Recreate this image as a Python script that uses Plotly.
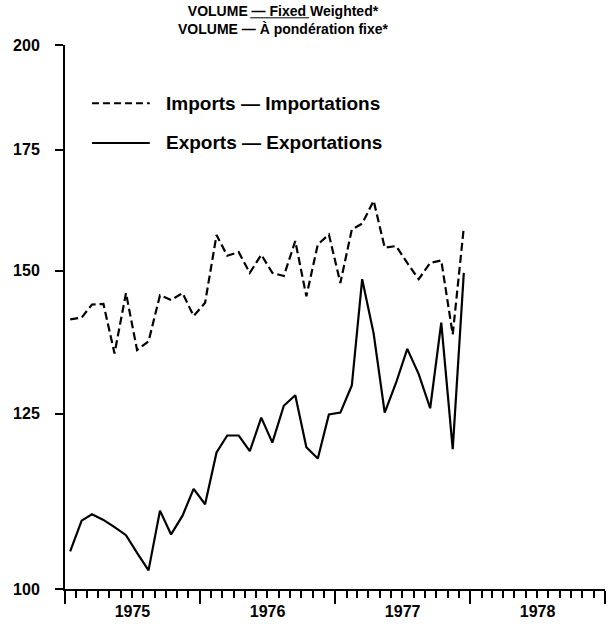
import plotly.graph_objects as go
import numpy as np

# Monthly data, Jan 1975 - Dec 1977 (index values, log scale)
months = [f"{1975 + i // 12}-{i % 12 + 1:02d}-15" for i in range(36)]

imports = [141.0, 141.3, 143.7, 143.8, 135.0, 145.8, 135.6, 137.1, 145.4, 144.5, 145.8, 141.6,
           144.0, 157.0, 152.9, 153.6, 149.6, 153.1, 149.6, 149.0, 155.8, 145.2, 155.1, 157.1,
           147.7, 158.1, 159.3, 164.0, 154.5, 154.8, 151.5, 148.4, 151.5, 152.0, 138.3, 158.5]

exports = [104.9, 109.1, 110.0, 109.2, 108.2, 107.1, 104.7, 102.4, 110.5, 107.2, 109.8, 113.6,
           111.4, 119.0, 121.6, 121.6, 119.2, 124.4, 120.5, 126.3, 128.0, 119.8, 118.1, 124.9,
           125.2, 129.6, 148.4, 138.5, 125.2, 130.1, 135.8, 131.5, 125.9, 140.4, 119.5, 149.6]

y_ticks = [100, 125, 150, 175, 200]
series_names = ["Imports — Importations", "Exports — Exportations"]
title_lines = ["VOLUME — Fixed Weighted*", "VOLUME — À pondération fixe*"]

FONT = "Liberation Sans"
tickfont = dict(family=FONT, size=16, color="black", weight="bold")

fig = go.Figure()
fig.add_trace(go.Scatter(x=months, y=imports, mode="lines", name=series_names[0],
                         line=dict(color="black", width=2.2, dash="8px,4px")))
fig.add_trace(go.Scatter(x=months, y=exports, mode="lines", name=series_names[1],
                         line=dict(color="black", width=2.2)))

fig.update_layout(
    width=610, height=628,
    margin=dict(l=65, r=5, t=45, b=39),
    paper_bgcolor="white", plot_bgcolor="white",
    showlegend=False,
    xaxis=dict(type="date", range=["1975-01-01", "1979-01-01"],
               tick0="1975-01-01", dtick="M12", tickformat="%Y", ticklabelmode="period",
               ticks="outside", ticklen=13, tickwidth=2, tickcolor="black",
               ticklabelstandoff=-6,
               showline=True, linewidth=2, linecolor="black",
               showgrid=False, zeroline=False, tickfont=tickfont,
               minor=dict(dtick="M1", ticks="outside", ticklen=7, tickwidth=1.5,
                          tickcolor="black", showgrid=False)),
    yaxis=dict(type="log", range=[2, np.log10(200)], tickvals=y_ticks,
               ticktext=[str(v) for v in y_ticks],
               ticks="outside", ticklen=8, tickwidth=2, tickcolor="black",
               ticklabelstandoff=12,
               showline=True, linewidth=2, linecolor="black",
               showgrid=False, zeroline=False, tickfont=tickfont),
)

# Title
fig.add_annotation(xref="paper", yref="paper", x=0.405, y=1.046, yanchor="middle",
                   text="<br>".join(title_lines), showarrow=False,
                   font=dict(family=FONT, size=14, color="black", weight="bold"))
# underline seen under "— Fixed" in the first title line
fig.add_shape(type="line", xref="paper", yref="paper", x0=0.343, x1=0.452,
              y0=1.05, y1=1.05, line=dict(color="black", width=1))

# Manual legend
leg_y = [0.893, 0.820]
leg_dash = ["7px,4px", "solid"]
for name, ly, d in zip(series_names, leg_y, leg_dash):
    fig.add_shape(type="line", xref="paper", yref="paper", x0=0.05, x1=0.157, y0=ly, y1=ly,
                  line=dict(color="black", width=2, dash=d))
    fig.add_annotation(xref="paper", yref="paper", x=0.183, y=ly, xanchor="left",
                       yanchor="middle", text=name, showarrow=False,
                       font=dict(family=FONT, size=19, color="black", weight="bold"))

fig.write_html("out.html", config={"displayModeBar": False},
               post_script="document.body.style.margin='0';")
